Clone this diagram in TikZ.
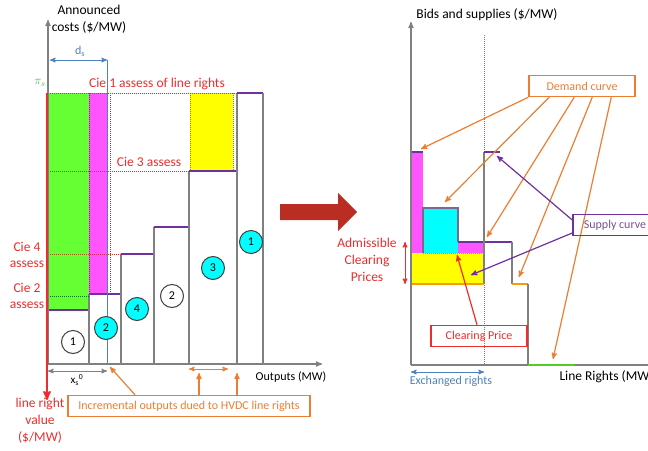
\documentclass[tikz,border=0pt]{standalone}
\usepackage{fontspec}
\setmainfont{Carlito}
\usepackage{amsmath}
\usepackage{tikz}
\usetikzlibrary{arrows,shapes}

\definecolor{axisgray}{RGB}{128,128,128}
\definecolor{lgreen}{RGB}{102,255,51}
\definecolor{lmagenta}{RGB}{255,85,255}
\definecolor{lcyan}{RGB}{0,255,255}
\definecolor{lyellow}{RGB}{255,255,0}
\definecolor{lorange}{RGB}{237,125,49}
\definecolor{lpurple}{RGB}{112,48,160}
\definecolor{lred}{RGB}{235,45,45}
\definecolor{lblue}{RGB}{79,129,189}
\definecolor{darrow}{RGB}{185,45,35}

\begin{document}
\begin{tikzpicture}[x=1pt,y=-1pt,>=stealth',line width=1pt,
                    every node/.style={font=\fontsize{12}{16.5}\selectfont,inner sep=1pt}]
  \tikzstyle{big}=[font=\fontsize{13.5}{16.8}\selectfont]
  \tikzstyle{axis}=[axisgray,line width=1.2pt,->]
  \tikzstyle{bar}=[axisgray,line width=1.2pt]
  \tikzstyle{supply}=[lpurple,line width=1.2pt]
  \tikzstyle{assess}=[lred,densely dotted,line width=1pt]
  \tikzstyle{redtxt}=[big,text=lred,align=center]
  \tikzstyle{circ}=[circle,draw=black!75,line width=1pt,minimum size=23pt,inner sep=0pt]
  \tikzstyle{obox}=[draw=lorange,line width=1.5pt,text=lorange,minimum height=21pt]
  \tikzstyle{oarrow}=[lorange,line width=1.2pt,->]
  \tikzstyle{parrow}=[lpurple,line width=1.2pt,->]
  \tikzstyle{barrow}=[lblue,line width=1pt,<->]

  \useasboundingbox (0,0) rectangle (648,450);

  % ---- left: announced costs ----
  \fill[lgreen]   (48,93)  rectangle (89,310);
  \fill[lmagenta] (89,93)  rectangle (108,293);
  \fill[lyellow]  (190,93) rectangle (233,171);

  \foreach \xa/\xb/\yt in {48/89/310, 89/121/294, 121/154/254,
                            154/189/227, 189/237/171, 237/263/93}
    {
      \draw[bar] (\xa,364) -- (\xa,\yt);
      \draw[supply] (\xa,\yt) -- (\xb,\yt);
    }
  \draw[bar] (263,93) -- (263,364);

  \draw[green!45!black,densely dotted] (89,93) -- (89,293);
  \draw[lpurple,densely dotted] (110,93) -- (110,293);
  \draw[olive,densely dotted] (190,93) -- (190,171) (233,93) -- (233,171);

  \draw[assess] (48,93) -- (237,93);
  \draw[assess] (48,171) -- (189,171);
  \draw[assess] (48,254) -- (121,254);
  \draw[green!45!black,densely dotted] (48,296) -- (89,296);

  \draw[lblue] (107,60) -- (107,364);
  \coordinate (dsa) at (50,60);
  \coordinate (dsb) at (107,60);
  \draw[barrow] (dsa) -- (dsb);
  \node[text=lblue] (ds) at (80,51) {d\textsubscript{s}};

  \draw[axis] (48,364) -- (48,20);
  \draw[axis] (48,364) -- (322,364);
  \draw[lred,line width=2pt,->] (47,93) -- (47,400);

  \node[big,align=center] (costlbl) at (89,19) {Announced\\costs (\$/MW)};
  \node[text=green!50!gray] (pis) at (40,83) {$\pi_s$};
  \node[redtxt] (cie1) at (157,84) {Cie 1 assess of line rights};
  \node[redtxt] (cie3) at (149,162) {Cie 3 assess};
  \node[redtxt] (cie4) at (27,255) {Cie 4\\assess};
  \node[redtxt] (cie2) at (27,296) {Cie 2\\assess};
  \node (outlbl) at (291,377) {Outputs (MW)};
  \node[redtxt] (lrv) at (40,421) {line right\\value\\(\$/MW)};

  \node[circ,fill=white] (c1) at (73,342) {1};
  \node[circ,fill=lcyan] (c2) at (106,328) {2};
  \node[circ,fill=lcyan] (c4) at (137,309) {4};
  \node[circ,fill=white] (c2b) at (172,296) {2};
  \node[circ,fill=lcyan] (c3) at (213,268) {3};
  \node[circ,fill=lcyan] (c1b) at (251,242) {1};

  \coordinate (xsa) at (48,371);
  \coordinate (xsb) at (107,371);
  \draw[axisgray,line width=1pt,<->] (xsa) -- (xsb);
  \node[inner sep=0pt,font=\fontsize{11}{12}\selectfont] (xs) at (77,380)
    {x\textsubscript{s}\textsuperscript{0}};

  \coordinate (oa) at (189,369);
  \coordinate (ob) at (228,369);
  \draw[lorange,line width=1pt,<->] (oa) -- (ob);

  \node[obox,minimum width=242pt] (incr) at (189,406)
    {Incremental outputs dued to HVDC line rights};
  \coordinate (t1) at (110,367);
  \coordinate (t2) at (199,373);
  \coordinate (t3) at (237,373);
  \draw[oarrow] ([xshift=-54pt]incr.north) -- (t1);
  \draw[oarrow] (incr.north -| t2) -- (t2);
  \draw[oarrow] (incr.north -| t3) -- (t3);

  % ---- middle arrow ----
  \fill[darrow] (280,204) -- (338,204) -- (338,193) -- (357,212)
                -- (338,231) -- (338,220) -- (280,220) -- cycle;

  % ---- right: bids and supplies ----
  \fill[lmagenta] (412,152) rectangle (423,253);
  \fill[lcyan]    (423,208) rectangle (458,253);
  \fill[lmagenta] (458,242) rectangle (484,253);
  \fill[lyellow]  (412,253) rectangle (484,284);

  \draw[lblue,densely dotted] (484,35) -- (484,365);
  \draw[axis] (411,365) -- (411,22);
  \draw[bar] (411,365) -- (650,365);

  \draw[supply] (412,152) -- (423,152);
  \draw[axisgray!70!lpurple,line width=1.2pt] (423,253) -- (423,208) -- (458,208) -- (458,242);
  \draw[supply] (458,242) -- (512,242);
  \draw[bar] (484,152) -- (484,284);
  \draw[supply] (484,152) -- (500,152);
  \draw[lorange,densely dotted] (423,253) -- (484,253);
  \draw[orange!80!yellow,line width=1.2pt] (412,284) -- (484,284);
  \draw[bar] (512,242) -- (512,284);
  \draw[orange!80!yellow,line width=1.2pt] (512,284) -- (528,284);
  \draw[bar] (528,284) -- (528,365);
  \draw[lgreen!80!black,line width=1.6pt] (528,365) -- (575,365);

  \node[big] (bidlbl) at (487,15) {Bids and supplies (\$/MW)};
  \node[big,anchor=west] (lrlbl) at (558,377) {Line Rights (MW)};
  \coordinate (exa) at (411,372);
  \coordinate (exb) at (484,372);
  \draw[barrow] (exa) -- (exb);
  \node[text=lblue] (exlbl) at (451,381) {Exchanged rights};

  \node[redtxt] (admis) at (367,260) {Admissible\\Clearing\\Prices};
  \coordinate (ada) at (405,242);
  \coordinate (adb) at (405,284);
  \draw[lred,line width=1pt,<->] (ada) -- (adb);

  \node[obox,minimum width=106pt] (demand) at (582,86) {Demand curve};
  \coordinate (d1) at (421,149);
  \coordinate (d2) at (445,202);
  \coordinate (d3) at (487,237);
  \coordinate (d4) at (519,277);
  \coordinate (d5) at (553,359);
  \foreach \dx/\t in {0/d1,21/d2,46/d3,64/d4,83/d5}
    \draw[oarrow] ([xshift=\dx pt]demand.south west) -- (\t);

  \node[draw=lpurple,line width=1.5pt,text=lpurple!60!gray,minimum height=21pt,
        minimum width=84pt] (supplybox) at (615,225) {Supply curve};
  \coordinate (s1) at (497,156);
  \coordinate (s2) at (471,275);
  \draw[parrow] ([yshift=5pt]supplybox.west) -- (s1);
  \draw[parrow] ([yshift=-8pt]supplybox.west) -- (s2);

  \node[draw=lred,line width=1.5pt,text=lred,minimum height=21pt,
        minimum width=96pt] (clearing) at (479,336) {Clearing Price};
  \coordinate (cp) at (457,255);
  \draw[lred,line width=1.2pt,->] ([xshift=-2pt]clearing.north) -- (cp);
\end{tikzpicture}
\end{document}
